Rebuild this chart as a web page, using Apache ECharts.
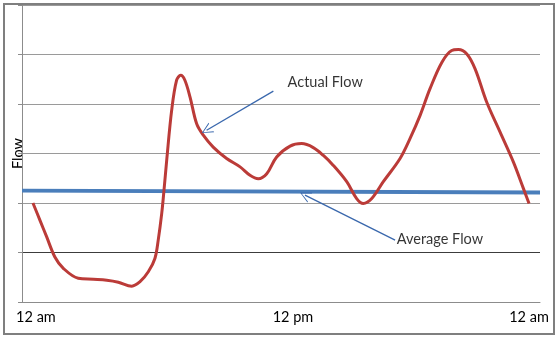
<!DOCTYPE html>
<html>
<head>
<meta charset="utf-8">
<script src="https://cdn.jsdelivr.net/npm/echarts@6/dist/echarts.min.js"></script>
<style>
html,body{margin:0;padding:0;background:#fff;}
#chart{width:560px;height:343px;}
</style>
</head>
<body>
<div id="chart"></div>
<script>
// hours of day (0 = 12 am, 24 = next 12 am)
const hours = [0,0.34,0.66,1.06,1.47,2.19,2.92,3.57,4.13,4.78,5.18,5.58,5.90,6.06,6.23,6.34,6.47,6.71,6.95,7.15,7.35,7.60,7.92,8.24,8.72,9.37,10.02,10.5,10.90,11.31,11.79,12.44,13.0,13.56,14.05,14.53,15.18,15.66,15.98,16.39,16.95,17.76,18.24,18.73,19.21,19.78,20.26,20.58,20.99,21.39,21.95,22.6,23.24,23.73,24.0];
const actualFlow = [2.00,1.65,1.32,0.91,0.68,0.48,0.46,0.44,0.40,0.32,0.41,0.61,0.88,1.25,1.79,2.26,2.86,3.87,4.48,4.58,4.48,4.14,3.60,3.37,3.13,2.90,2.73,2.56,2.49,2.59,2.93,3.15,3.20,3.12,2.96,2.76,2.43,2.09,1.99,2.09,2.43,2.90,3.30,3.77,4.31,4.84,5.08,5.10,5.01,4.71,4.04,3.43,2.83,2.29,1.99];
const avgHours = [-0.53, 24.53];
const averageFlow = [2.25, 2.21];
const tickHours = [0, 12, 24];
const tickLabels = ['12 am', '12 pm', '12 am'];
const actualArrow = [[11.63, 4.26], [8.40, 3.47]];
const averageArrow = [[17.52, 1.25], [13.16, 2.16]];
const annotationNames = ['Actual Flow', 'Average Flow'];
const annotationAnchors = [[12.32, 4.44], [17.60, 1.27]];

const FONT = 'Lato';
const chev = 'path://M0,10 L5,0 L10,10 L9,10 L5,1.6 L1,10 Z';
const chart = echarts.init(document.getElementById('chart'), null, {renderer:'canvas'});
chart.setOption({
  animation:false,
  backgroundColor:'#fff',
  textStyle:{fontFamily:FONT},
  grid:{left:22,right:20,top:5,bottom:41,containLabel:false},
  graphic:[{type:'rect',shape:{x:4,y:4,width:550,height:330},style:{fill:'none',stroke:'#7f7f7f',lineWidth:2},z:100}],
  xAxis:{
    type:'value',min:-0.53,max:24.53,
    axisLine:{show:true,onZero:false,lineStyle:{color:'#8c8c8c',width:1}},
    axisTick:{show:false},
    splitLine:{show:false},
    axisLabel:{
      customValues:tickHours,
      color:'#000',fontFamily:FONT,fontSize:14.5,margin:8,
      formatter:function(v){const i=tickHours.indexOf(v);const t=i>=0?tickLabels[i]:'';return i===1?'{mid|'+t+'}':(i===0?'{first|'+t+'}':t);},
      rich:{
        mid:{padding:[0,0,0,24],fontFamily:FONT,fontSize:14.5,color:'#000'},
        first:{padding:[0,0,0,6],fontFamily:FONT,fontSize:14.5,color:'#000'}
      }
    }
  },
  yAxis:{
    type:'value',min:0,max:6,interval:1,
    name:'Flow',nameLocation:'middle',nameRotate:90,nameGap:-4,
    nameTextStyle:{color:'#000',fontFamily:FONT,fontSize:14.5},
    axisLine:{show:true,onZero:false,lineStyle:{color:'#8c8c8c',width:1}},
    axisTick:{show:true,inside:false,length:4,lineStyle:{color:'#8c8c8c'}},
    axisLabel:{show:false},
    splitLine:{show:true,lineStyle:{color:['#9a9a9a','#3c3c3c','#9a9a9a','#9a9a9a','#9a9a9a','#9a9a9a','#9a9a9a'],width:1}}
  },
  series:[
    {
      type:'line',name:'Average Flow',
      data:avgHours.map((h,i)=>[h,averageFlow[i]]),
      showSymbol:false,symbol:'none',
      lineStyle:{color:'#4a7ebb',width:4},z:3
    },
    {
      type:'line',name:'Actual Flow',
      data:hours.map((h,i)=>[h,actualFlow[i]]),
      smooth:0.35,showSymbol:false,symbol:'none',
      lineStyle:{color:'#bb3b38',width:3},z:4,
      markLine:{
        silent:true,symbol:['none',chev],symbolSize:[11,11],
        lineStyle:{color:'#3a68ad',width:1.3,type:'solid'},
        itemStyle:{color:'#3a68ad'},
        label:{show:false},
        data:[
          [{coord:actualArrow[0]},{coord:actualArrow[1]}],
          [{coord:averageArrow[0]},{coord:averageArrow[1]}]
        ]
      }
    },
    {
      type:'scatter',
      data:annotationAnchors.map((p,i)=>({value:p,name:annotationNames[i]})),
      symbolSize:0,silent:true,
      label:{show:true,position:'right',distance:0,formatter:'{b}',color:'#000',fontFamily:FONT,fontSize:14.5}
    }
  ]
});
</script>
</body>
</html>
